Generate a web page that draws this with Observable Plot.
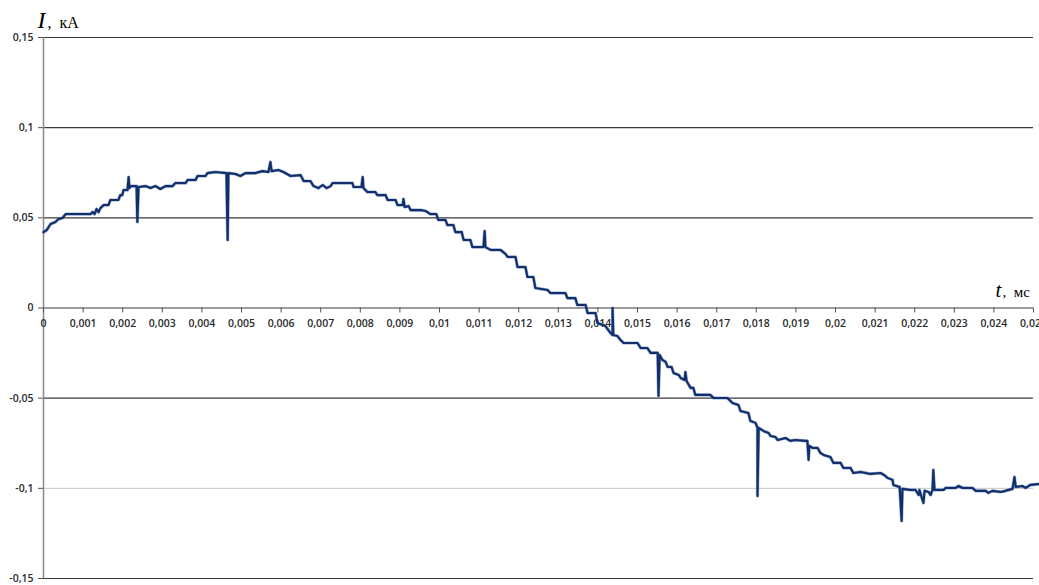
<!DOCTYPE html>
<html>
<head>
<meta charset="utf-8">
<script src="https://cdn.jsdelivr.net/npm/d3@7"></script>
<script src="https://cdn.jsdelivr.net/npm/@observablehq/plot@0.6"></script>
<style>
  html, body { margin: 0; padding: 0; background: #fff; overflow: hidden; }
</style>
</head>
<body>
<div id="chart"></div>
<script>
// Time values (as labelled on the axis) and current values, kA
const tValues = [
  0, 0.00008, 0.00018, 0.00030, 0.00038, 0.00048, 0.00056, 0.00119, 0.00124, 0.00129,
  0.00134, 0.00139, 0.00144, 0.00152, 0.00164, 0.00169, 0.00189, 0.00194, 0.00199, 0.00202,
  0.00212, 0.00215, 0.00217, 0.00220, 0.00235, 0.00237, 0.00240, 0.00258, 0.00270, 0.00283,
  0.00295, 0.00308, 0.00326, 0.00333, 0.00359, 0.00364, 0.00384, 0.00389, 0.00409, 0.00414,
  0.00434, 0.00462, 0.00465, 0.00467, 0.00485, 0.00497, 0.00510, 0.00535, 0.00553, 0.00568,
  0.00573, 0.00576, 0.00593, 0.00606, 0.00624, 0.00649, 0.00657, 0.00674, 0.00682, 0.00694,
  0.00705, 0.00715, 0.00725, 0.00730, 0.00780, 0.00783, 0.00803, 0.00806, 0.00808, 0.00818,
  0.00838, 0.00843, 0.00864, 0.00869, 0.00889, 0.00894, 0.00907, 0.00909, 0.00912, 0.00922,
  0.00927, 0.00952, 0.00965, 0.00977, 0.00992, 0.00997, 0.01015, 0.01020, 0.01035, 0.01040,
  0.01056, 0.01061, 0.01078, 0.01083, 0.01111, 0.01114, 0.01116, 0.01129, 0.01154, 0.01167,
  0.01172, 0.01192, 0.01197, 0.01217, 0.01222, 0.01237, 0.01242, 0.01273, 0.01280, 0.01318,
  0.01323, 0.01343, 0.01348, 0.01369, 0.01374, 0.01394, 0.01399, 0.01419, 0.01432, 0.01437,
  0.01437, 0.01439, 0.01449, 0.01457, 0.01465, 0.01500, 0.01508, 0.01525, 0.01533, 0.01551,
  0.01553, 0.01556, 0.01563, 0.01571, 0.01576, 0.01586, 0.01591, 0.01604, 0.01609, 0.01619,
  0.01621, 0.01624, 0.01634, 0.01641, 0.01646, 0.01684, 0.01692, 0.01727, 0.01735, 0.01740,
  0.01755, 0.01760, 0.01780, 0.01785, 0.01798, 0.01803, 0.01803, 0.01806, 0.01818, 0.01831,
  0.01836, 0.01848, 0.01854, 0.01874, 0.01886, 0.01899, 0.01924, 0.01929, 0.01932, 0.01934,
  0.01942, 0.01955, 0.01962, 0.01970, 0.01987, 0.01995, 0.02013, 0.02020, 0.02038, 0.02045,
  0.02063, 0.02088, 0.02114, 0.02126, 0.02131, 0.02144, 0.02146, 0.02162, 0.02167, 0.02169,
  0.02189, 0.02202, 0.02210, 0.02212, 0.02222, 0.02225, 0.02235, 0.02240, 0.02245, 0.02247,
  0.02250, 0.02273, 0.02278, 0.02303, 0.02311, 0.02321, 0.02346, 0.02354, 0.02379, 0.02386,
  0.02396, 0.02417, 0.02429, 0.02447, 0.02452, 0.02455, 0.02472, 0.02480, 0.02492, 0.02515
];
const iValues = [
  0.0421, 0.0432, 0.0466, 0.0477, 0.0493, 0.0499, 0.0521, 0.0521, 0.0532, 0.0521,
  0.0549, 0.0532, 0.0554, 0.0571, 0.0571, 0.0599, 0.0599, 0.0626, 0.0626, 0.0654,
  0.0654, 0.0726, 0.0665, 0.0676, 0.0676, 0.0477, 0.0671, 0.0676, 0.0665, 0.0676,
  0.0660, 0.0676, 0.0676, 0.0693, 0.0693, 0.0710, 0.0710, 0.0732, 0.0732, 0.0748,
  0.0754, 0.0748, 0.0377, 0.0748, 0.0743, 0.0732, 0.0748, 0.0748, 0.0759, 0.0754,
  0.0809, 0.0759, 0.0765, 0.0754, 0.0732, 0.0737, 0.0704, 0.0704, 0.0676, 0.0665,
  0.0682, 0.0665, 0.0676, 0.0693, 0.0693, 0.0671, 0.0671, 0.0726, 0.0665, 0.0643,
  0.0643, 0.0626, 0.0626, 0.0599, 0.0599, 0.0571, 0.0571, 0.0604, 0.0560, 0.0565,
  0.0543, 0.0543, 0.0538, 0.0521, 0.0521, 0.0488, 0.0488, 0.0460, 0.0460, 0.0421,
  0.0421, 0.0377, 0.0377, 0.0338, 0.0338, 0.0427, 0.0338, 0.0322, 0.0322, 0.0299,
  0.0283, 0.0283, 0.0227, 0.0227, 0.0172, 0.0172, 0.0111, 0.0100, 0.0083, 0.0083,
  0.0055, 0.0055, 0.0017, 0.0017, -0.0028, -0.0028, -0.0083, -0.0100, -0.0139, -0.0150,
  0, -0.0150, -0.0155, -0.0177, -0.0194, -0.0194, -0.0222, -0.0222, -0.0249, -0.0249,
  -0.0488, -0.0261, -0.0288, -0.0299, -0.0327, -0.0327, -0.0360, -0.0371, -0.0388, -0.0399,
  -0.0355, -0.0405, -0.0443, -0.0443, -0.0482, -0.0482, -0.0499, -0.0499, -0.0516, -0.0527,
  -0.0538, -0.0571, -0.0582, -0.0626, -0.0637, -0.0665, -0.1042, -0.0665, -0.0682, -0.0693,
  -0.0710, -0.0715, -0.0732, -0.0721, -0.0737, -0.0732, -0.0737, -0.0737, -0.0843, -0.0765,
  -0.0776, -0.0776, -0.0804, -0.0815, -0.0826, -0.0859, -0.0859, -0.0887, -0.0887, -0.0915,
  -0.0909, -0.0920, -0.0915, -0.0931, -0.0942, -0.0953, -0.0981, -0.0992, -0.1181, -0.1003,
  -0.1009, -0.1009, -0.1037, -0.1009, -0.1081, -0.1014, -0.1020, -0.1037, -0.1009, -0.0898,
  -0.1009, -0.1009, -0.0998, -0.0998, -0.0987, -0.0998, -0.0998, -0.1014, -0.1014, -0.1025,
  -0.1014, -0.1020, -0.1014, -0.1003, -0.0937, -0.0992, -0.0987, -0.0998, -0.0981, -0.0976
];
const xTicks = [0, 0.001, 0.002, 0.003, 0.004, 0.005, 0.006, 0.007, 0.008, 0.009, 0.01, 0.011, 0.012,
  0.013, 0.014, 0.015, 0.016, 0.017, 0.018, 0.019, 0.02, 0.021, 0.022, 0.023, 0.024, 0.025];
const yTicks = [-0.15, -0.1, -0.05, 0, 0.05, 0.1, 0.15];
const yLightGrid = [-0.1];
const yDarkGrid = [-0.15, -0.05, 0, 0.05, 0.1, 0.15];

const data = tValues.map((t, i) => ({t, I: iValues[i]}));
const fmt = d => String(d).replace(".", ",");
const tickFont = "'Open Sans', 'Liberation Sans', sans-serif";
const serif = "'Liberation Serif', 'DejaVu Serif', serif";

const chart = Plot.plot({
  width: 1039,
  height: 585,
  marginTop: 37,
  marginBottom: 7,
  marginLeft: 43,
  marginRight: 6,
  style: {background: "#fff", overflow: "visible"},
  x: {domain: [0, 0.025], axis: null},
  y: {domain: [-0.15, 0.15], axis: null},
  marks: [
    Plot.ruleY(yLightGrid, {stroke: "#c8c8c8", strokeWidth: 1}),
    Plot.ruleY(yDarkGrid, {stroke: "#3a3a3a", strokeWidth: 1.1}),
    Plot.ruleX([0], {stroke: "#8a8a8a", strokeWidth: 1.5}),
    Plot.axisY({ticks: yTicks, tickFormat: fmt, tickSize: 5, tickPadding: 5, label: null,
      fontSize: 10.5, fontFamily: tickFont, fontWeight: 600, fill: "#2b2b2b", stroke: "#555"}),
    Plot.ruleX(xTicks, {x: d => d, y1: 0, y2: 0, insetBottom: -5, stroke: "#555"}),
    Plot.text(xTicks, {x: d => d, y: 0, dy: 16, text: fmt, fontSize: 10.5,
      fontFamily: tickFont, fontWeight: 600, fill: "#2b2b2b"}),
    Plot.line(data, {x: "t", y: "I", stroke: "#3b67a6", strokeWidth: 3.2, strokeOpacity: 0.55}),
    Plot.line(data, {x: "t", y: "I", stroke: "#122f6b", strokeWidth: 2.1}),
    Plot.text(["I"], {frameAnchor: "top-left", dx: -6, dy: -10, textAnchor: "start", lineAnchor: "bottom",
      fontSize: 24, fontStyle: "italic", fontFamily: serif, fill: "#000"}),
    Plot.text([",  кА"], {frameAnchor: "top-left", dx: 4, dy: -10, textAnchor: "start", lineAnchor: "bottom",
      fontSize: 16, fontFamily: serif, fill: "#000"}),
    Plot.text(["t"], {frameAnchor: "right", dx: -38, dy: -11, textAnchor: "start", lineAnchor: "bottom",
      fontSize: 21, fontStyle: "italic", fontFamily: serif, fill: "#000"}),
    Plot.text([",  мс"], {frameAnchor: "right", dx: -31, dy: -11, textAnchor: "start", lineAnchor: "bottom",
      fontSize: 15, fontFamily: serif, fill: "#000"})
  ]
});
document.getElementById("chart").appendChild(chart);
</script>
</body>
</html>
